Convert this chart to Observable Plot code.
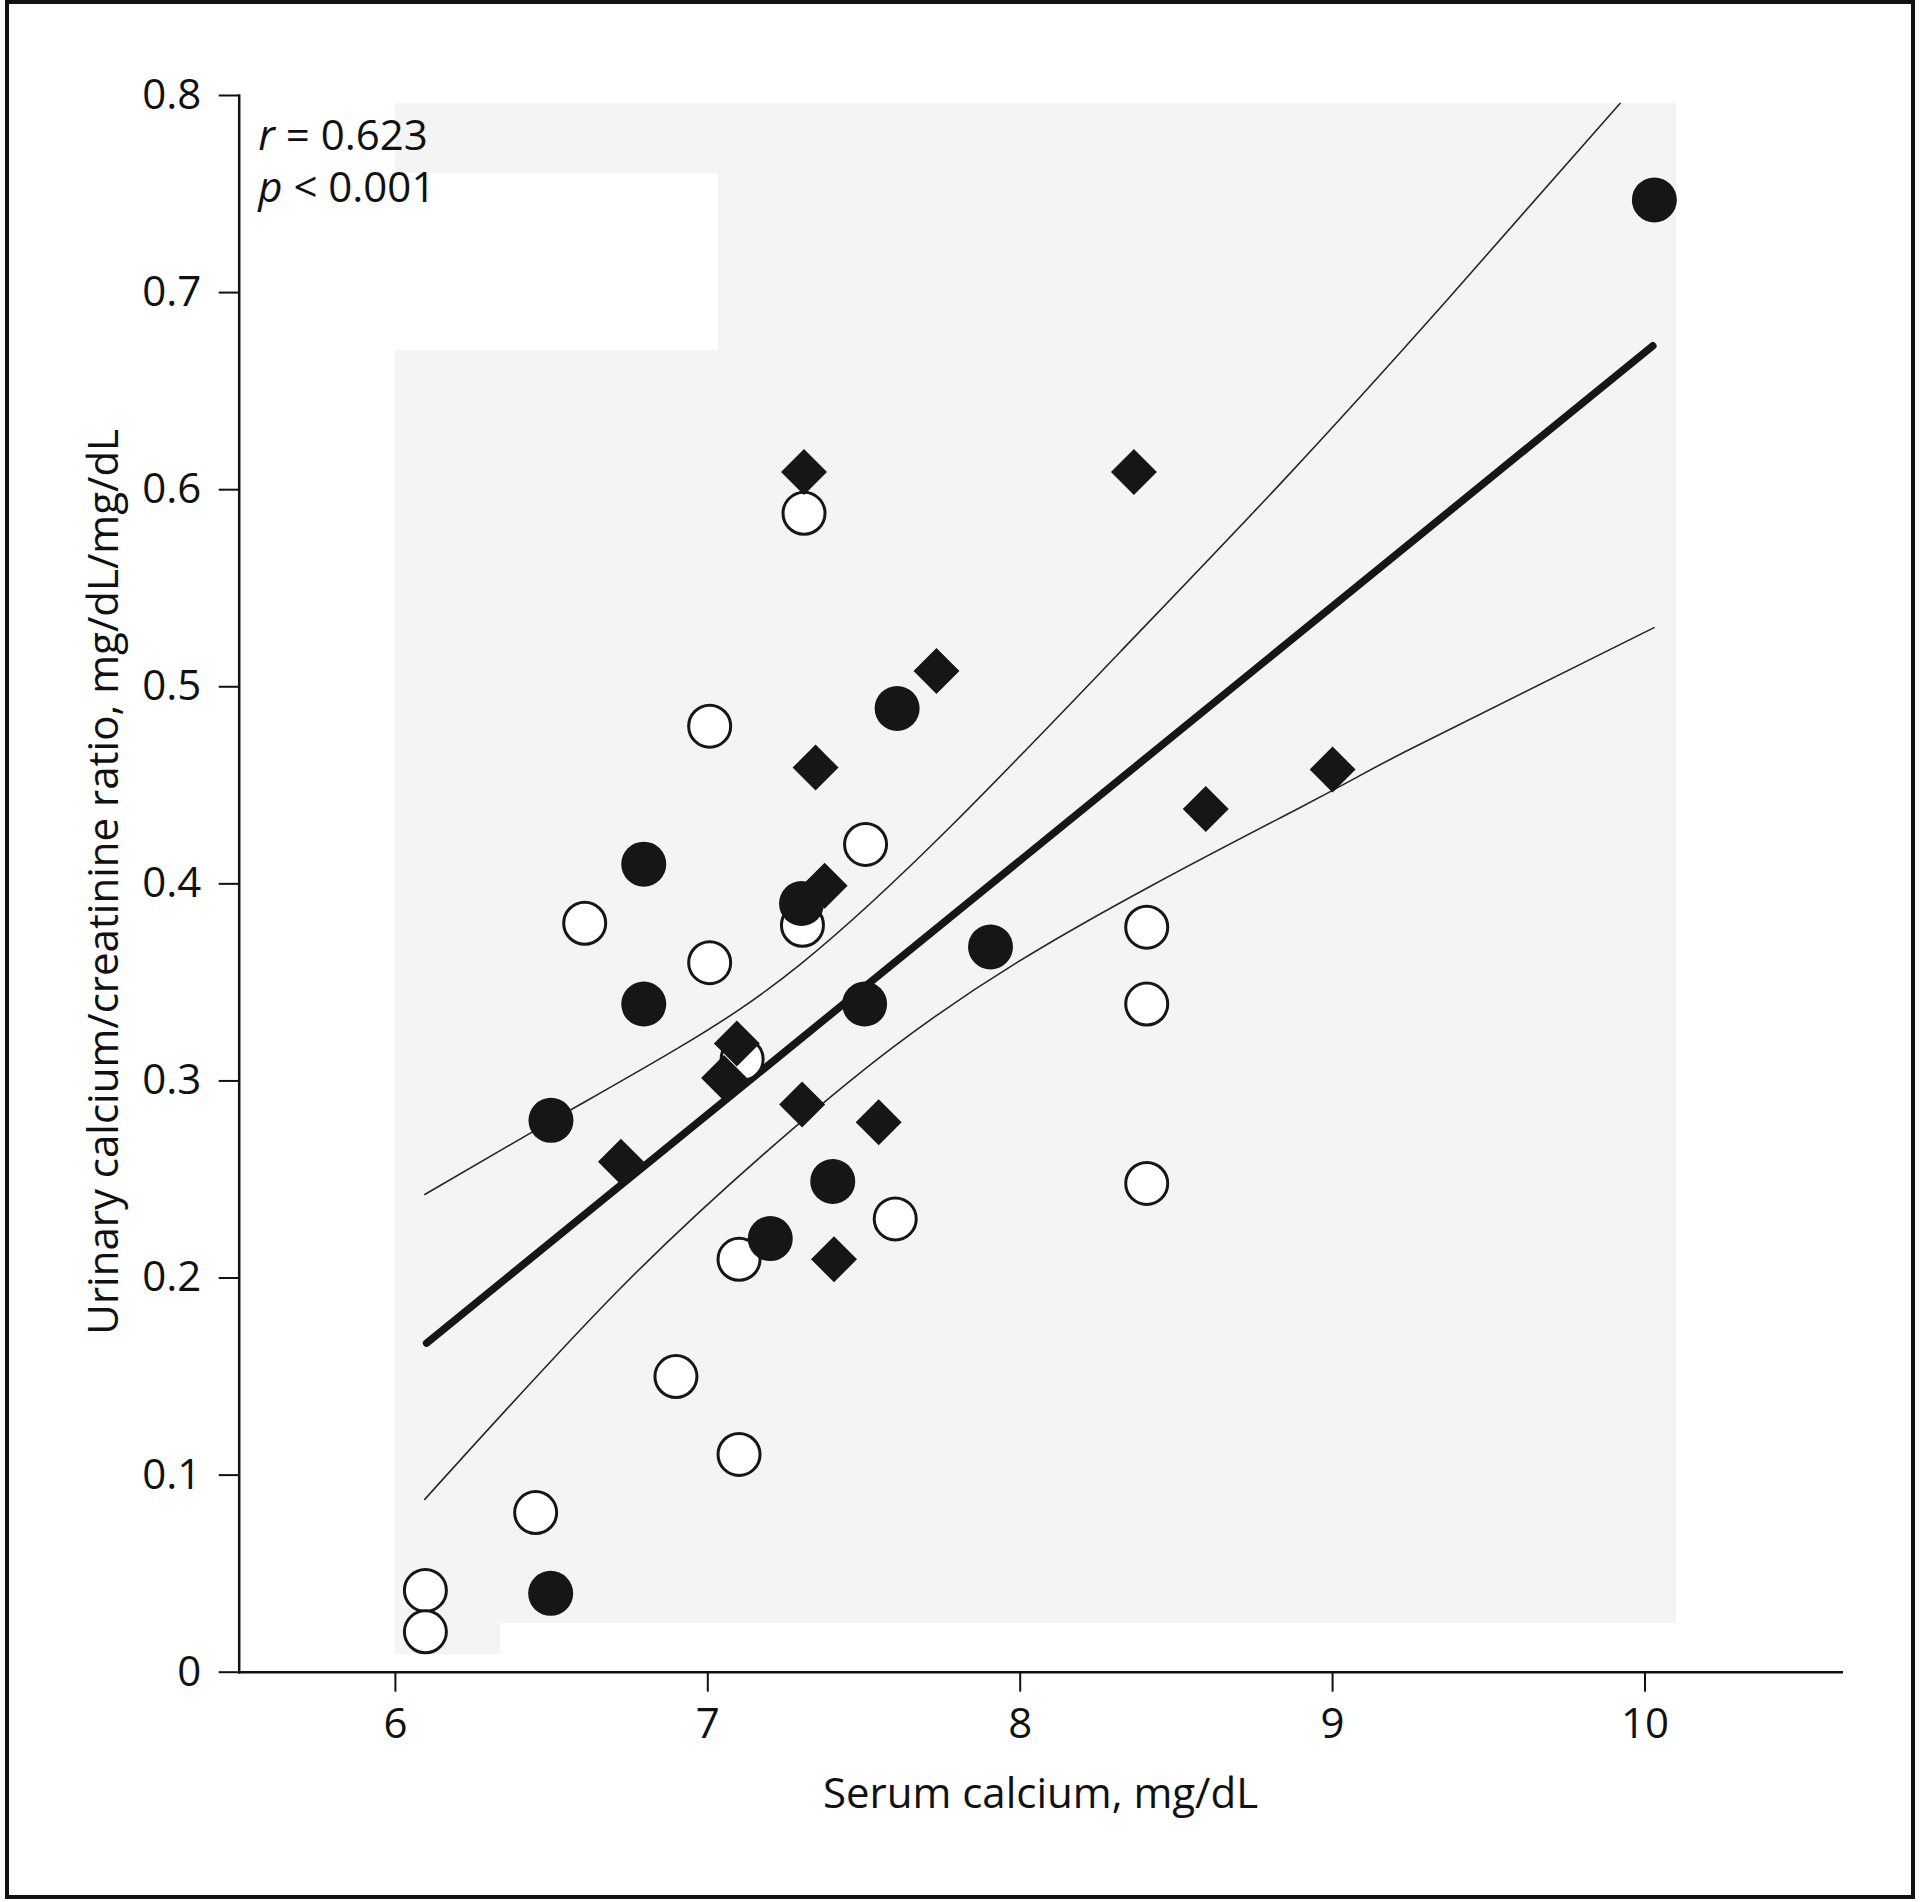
<!DOCTYPE html>
<html>
<head>
<meta charset="utf-8">
<script src="https://cdn.jsdelivr.net/npm/d3@7"></script>
<script src="https://cdn.jsdelivr.net/npm/@observablehq/plot@0.6"></script>
<style>
  html, body { margin: 0; padding: 0; background: #fff; }
  #wrap { position: relative; width: 1920px; height: 1902px; overflow: hidden; background: #fff; }
  #chart { position: absolute; left: 0; top: 0; }
  #border { position: absolute; left: 5px; top: 0px; width: 1910px; height: 1899px; box-sizing: border-box; border: 4px solid #111; pointer-events: none; }
</style>
</head>
<body>
<div id="wrap"><div id="chart"></div><div id="border"></div></div>
<script>
// ---- axis setup ----
const xDomain = [5.5, 10.63];
const yDomain = [0, 0.8];
const xTicks = [6, 7, 8, 9, 10];
const xTickLabels = ["6", "7", "8", "9", "10"];
const yTicks = [0, 0.1, 0.2, 0.3, 0.4, 0.5, 0.6, 0.7, 0.8];
const yTickLabels = ["0", "0.1", "0.2", "0.3", "0.4", "0.5", "0.6", "0.7", "0.8"];
const xTitle = "Serum calcium, mg/dL";
const yTitle = "Urinary calcium/creatinine ratio, mg/dL/mg/dL";
const statR = "r = 0.623";
const statP = "p < 0.001";

// ---- series: filled circles ----
const filledX = [10.03, 7.606, 6.795, 7.30, 7.905, 6.795, 7.502, 6.498, 7.40, 7.20, 6.497];
const filledY = [0.747, 0.489, 0.410, 0.390, 0.368, 0.339, 0.339, 0.280, 0.249, 0.220, 0.040];

// ---- series: open circles ----
const openX = [7.308, 7.006, 7.505, 6.606, 7.303, 7.006, 7.11, 8.405, 8.405, 8.405, 7.60, 7.10, 6.898, 7.10, 6.449, 6.096, 6.096];
const openY = [0.588, 0.480, 0.420, 0.380, 0.379, 0.360, 0.311, 0.378, 0.339, 0.248, 0.230, 0.2095, 0.150, 0.1105, 0.081, 0.0415, 0.0205];

// ---- series: diamonds ----
const diamondX = [7.308, 8.364, 7.732, 7.345, 9.00, 8.594, 7.374, 7.093, 7.052, 7.302, 7.547, 6.722, 7.404];
const diamondY = [0.609, 0.609, 0.508, 0.459, 0.458, 0.438, 0.399, 0.319, 0.3015, 0.288, 0.279, 0.259, 0.2095];

// ---- regression line and confidence band ----
const fitX = [6.10, 10.025];
const fitY = [0.167, 0.673];
const upperX = [6.094, 6.498, 6.903, 7.297, 7.783, 8.316, 8.842, 9.363, 9.92];
const upperY = [0.2424, 0.2796, 0.3165, 0.3593, 0.430, 0.517, 0.6046, 0.6956, 0.796];
const lowerX = [6.094, 6.711, 7.276, 7.989, 8.895, 9.235, 10.029];
const lowerY = [0.0877, 0.1933, 0.2762, 0.360, 0.4386, 0.4673, 0.530];

// ---- scanned paper tint behind the plot (data units) ----
const paperX1 = [6.0, 7.034, 6.0, 6.0];
const paperX2 = [10.1, 10.1, 10.1, 6.335];
const paperY1 = [0.7605, 0.6705, 0.0245, 0.009];
const paperY2 = [0.796, 0.7605, 0.6705, 0.0245];

const pts = (xs, ys) => xs.map((x, i) => ({x, y: ys[i]}));
const filled = pts(filledX, filledY);
const open = pts(openX, openY);
const diamonds = pts(diamondX, diamondY);
const fit = pts(fitX, fitY);
const upper = pts(upperX, upperY);
const lower = pts(lowerX, lowerY);
const paper = paperX1.map((x1, i) => ({x1, x2: paperX2[i], y1: paperY1[i], y2: paperY2[i]}));

const ink = "#161616";

const svg = Plot.plot({
  width: 1920,
  height: 1902,
  marginLeft: 238.7,
  marginRight: 78.7,
  marginTop: 95,
  marginBottom: 230.3,
  style: {fontFamily: "'Open Sans', 'Noto Sans', sans-serif", fontSize: "42px", color: "#111", background: "transparent"},
  x: {domain: xDomain, label: null},
  y: {domain: yDomain, label: null},
  marks: [
    Plot.rect(paper, {x1: "x1", x2: "x2", y1: "y1", y2: "y2", fill: "#f4f4f4", shapeRendering: "crispEdges"}),
    Plot.frame({anchor: "left", strokeWidth: 2.5, stroke: "#111"}),
    Plot.frame({anchor: "bottom", strokeWidth: 2.5, stroke: "#111"}),
    Plot.axisX(xTicks, {tickSize: 20, tickPadding: 16, strokeWidth: 2, label: null, fontSize: 42,
      tickFormat: d => xTickLabels[xTicks.indexOf(d)]}),
    Plot.axisY(yTicks, {tickSize: 20, tickPadding: 18, strokeWidth: 2, label: null, fontSize: 42,
      tickFormat: d => yTickLabels[yTicks.indexOf(d)]}),
    Plot.line(upper, {x: "x", y: "y", curve: "natural", stroke: "#262626", strokeWidth: 1.6}),
    Plot.line(lower, {x: "x", y: "y", curve: "natural", stroke: "#262626", strokeWidth: 1.6}),
    Plot.line(fit, {x: "x", y: "y", stroke: ink, strokeWidth: 7.5, strokeLinecap: "round"}),
    Plot.dot(open, {x: "x", y: "y", r: 21, fill: "#fff", stroke: ink, strokeWidth: 3}),
    Plot.dot(filled, {x: "x", y: "y", r: 22.5, fill: ink}),
    Plot.dot(diamonds, {x: "x", y: "y", symbol: "diamond2", r: 20.7, fill: ink}),
    Plot.text([statR], {frameAnchor: "top-left", dx: 19, dy: 25, textAnchor: "start", lineAnchor: "top", fontSize: 42, fill: "#111"}),
    Plot.text([statP], {frameAnchor: "top-left", dx: 19, dy: 77, textAnchor: "start", lineAnchor: "top", fontSize: 42, fill: "#111"}),
    Plot.text([xTitle], {frameAnchor: "bottom", dy: 122, textAnchor: "middle", lineAnchor: "middle", fontSize: 42, fill: "#111"}),
    Plot.text([yTitle], {frameAnchor: "left", dx: -135, dy: -2, rotate: -90, textAnchor: "middle", lineAnchor: "middle", fontSize: 42, fill: "#111"})
  ]
});

// italicise the statistic symbols (r, p)
d3.select(svg).selectAll("text").each(function () {
  const t = this.textContent;
  if (t === statR || t === statP) {
    const s = d3.select(this);
    s.text(null);
    s.append("tspan").attr("font-style", "italic").text(t.slice(0, 1));
    s.append("tspan").text(t.slice(1));
  }
});

document.getElementById("chart").appendChild(svg);
</script>
</body>
</html>
